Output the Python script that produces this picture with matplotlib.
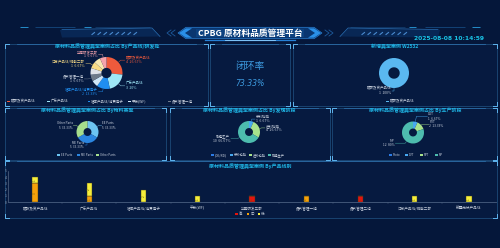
import matplotlib
matplotlib.use('Agg')
import matplotlib.pyplot as plt
import numpy as np
from matplotlib.patches import Polygon, Rectangle

plt.rcParams['font.family'] = ['Noto Sans CJK SC', 'DejaVu Sans']

W, H = 500, 248
BG = '#05173a'

# ---------------- data ----------------
title_main = "CPBG 原材料品质管理平台"
timestamp = "2025-08-08 10:14:59"

p1_title = "原材料品质管理典型案例占比 By产品线/研发处"
line_labels = ["磁碟及资产品线", "广东产品线", "墙体产品线/消费电子", "平板(WF)",
               "晶片管理一组", "晶片管理二组", "江苏产品线/储能二部", "新疆光伏产品线", "华南研发三部"]
line_counts = [4, 3, 2, 1, 1, 1, 1, 1, 1]
line_colors = ['#ee5a3c', '#9fe7f7', '#1f8ef0', '#cfe6f7', '#6f7b8a',
               '#dfe2e8', '#f9dc86', '#f7e9b0', '#f4a3ad']
line_show_label = [0, 1, 2, 4, 6, 8]
line_legend_n = 5

closed_title = "闭环率"
closed_value = "73.33%"

p3_title = "新增典型案例 W2532"
new_labels = ["磁碟及资产品线"]
new_counts = [1]
new_colors = ['#5ab8f0']

p4_title = "原材料品质管理典型案例占比 By物料类型"
mat_labels = ["EE Parts", "ME Parts", "Other Parts"]
mat_counts = [5, 5, 5]
mat_colors = ['#6cc4f2', '#2b86e0', '#a6de8c']

p5_title = "原材料品质管理典型案例占比 By发现阶段"
stage_labels = ["(OE/RD)", "来料检验", "进料检验", "制程生产"]
stage_counts = [0, 1, 4, 10]
stage_colors = ['#2c7be5', '#47a8f0', '#a8e28c', '#4dbcae']

p6_title = "原材料品质管理典型案例占比 By生产阶段"
prod_labels = ["Proto", "DVT", "PVT", "MP"]
prod_counts = [0, 1, 2, 12]
prod_colors = ['#2c7be5', '#47a8f0', '#a8e28c', '#4dbcae']

p7_title = "原材料品质管理典型案例 By产品线别"
bar_cats = ["磁碟及资产品线", "广东产品线", "墙体产品线/消费电子", "平板(WF)", "华南研发三部",
            "晶片管理一组", "晶片管理二组", "江苏产品线/储能二部", "新疆光伏产品线"]
sev_names = ["高", "中", "低"]
sev_high = [0, 0, 0, 0, 1, 0, 1, 0, 0]
sev_mid = [3, 1, 0, 0, 0, 1, 0, 0, 0]
sev_low = [1, 2, 2, 1, 0, 0, 0, 1, 1]
sev_colors = ['#e3140e', '#f5a10a', '#f6ee3a']

# ---------------- figure ----------------
fig = plt.figure(figsize=(W / 100, H / 100), dpi=100, facecolor=BG)
ov = fig.add_axes([0, 0, 1, 1])
ov.set_xlim(0, W)
ov.set_ylim(H, 0)
ov.axis('off')
ov.set_zorder(0)


def px_rect(x0, y0, x1, y1):
    return [x0 / W, 1 - y1 / H, (x1 - x0) / W, (y1 - y0) / H]


# ---------------- header ----------------
for xs, c in [((20, 28), '#2ba0e0'), ((35, 75), '#15497f'), ((84, 91), '#2ba0e0'), ((95, 150), '#113a6a')]:
    ov.plot(xs, (26.5, 26.5), color=c, lw=0.6, solid_capstyle='butt')
for xs, c in [((350, 405), '#113a6a'), ((409, 416), '#2ba0e0'), ((425, 465), '#15497f'), ((472, 480), '#2ba0e0')]:
    ov.plot(xs, (26.5, 26.5), color=c, lw=0.6, solid_capstyle='butt')
ov.add_patch(Polygon([(60, 30), (152, 28.5), (160, 36.5), (62, 37.5)], closed=True,
                     facecolor='#0a2c5c', edgecolor='none', alpha=0.8))
ov.plot([62, 152, 160], [29.5, 28, 36.5], color='#2a6fb5', lw=0.5)
for i in range(8):
    x = 92 + i * 6
    ov.plot([x, x + 2.5], [34.5, 32.5], color='#4a8ad0', lw=0.8)
ov.add_patch(Polygon([(440, 30), (348, 28.5), (340, 36.5), (438, 37.5)], closed=True,
                     facecolor='#0a2c5c', edgecolor='none', alpha=0.8))
ov.plot([438, 348, 340], [29.5, 28, 36.5], color='#2a6fb5', lw=0.5)
for i in range(8):
    x = 362 + i * 6
    ov.plot([x, x + 2.5], [34.5, 32.5], color='#4a8ad0', lw=0.8)

ov.add_patch(Polygon([(178, 33), (186, 27.3), (314, 27.3), (322, 33), (314, 38.7), (186, 38.7)],
                     closed=True, facecolor='#0a3670', edgecolor='#2a7fd0', lw=0.5))
ov.add_patch(Polygon([(196, 29), (304, 29), (304, 37), (196, 37)], closed=True,
                     facecolor='#0e4787', edgecolor='none', alpha=0.7))
ov.add_patch(Polygon([(179, 33), (186, 28.3), (192, 28.3), (185, 33), (192, 37.7), (186, 37.7)],
                     closed=True, facecolor='#2a90e8', edgecolor='none'))
ov.add_patch(Polygon([(321, 33), (314, 28.3), (308, 28.3), (315, 33), (308, 37.7), (314, 37.7)],
                     closed=True, facecolor='#2a90e8', edgecolor='none'))
for dx in (0, 4):
    ov.plot([175 - dx, 171 - dx, 175 - dx], [30, 33, 36], color='#1d5a9c', lw=0.6)
    ov.plot([325 + dx, 329 + dx, 325 + dx], [30, 33, 36], color='#1d5a9c', lw=0.6)
ov.plot([205, 295], [40, 40], color='#2f9cff', lw=0.9, alpha=0.8)
ov.plot([225, 275], [40, 40], color='#8fd0ff', lw=0.6)
ov.text(250, 33, title_main, color='white', fontsize=6.3, fontweight='bold',
        ha='center', va='center')
ov.text(483.5, 38.3, timestamp, color='#19c3e6', fontsize=4.3, fontweight='bold',
        ha='right', va='center', family=['DejaVu Sans'])


# ---------------- panels ----------------
def panel(x0, y0, x1, y1):
    ov.add_patch(Rectangle((x0, y0), x1 - x0, y1 - y0, facecolor='#061a40',
                           edgecolor='#1c4a78', lw=0.6))
    L = 4
    for (cx, cy, sx, sy) in [(x0, y0, 1, 1), (x1, y0, -1, 1), (x0, y1, 1, -1), (x1, y1, -1, -1)]:
        ov.plot([cx + sx * L, cx, cx], [cy, cy, cy + sy * L], color='#5fb4ee', lw=0.7)
    ov.plot([x0 + 12, x1 - 12], [y0, y0], color='#2a6aa4', lw=0.6)


panels = [(5, 44, 208, 105.5), (210, 44, 289.5, 105.5), (293, 44, 496.5, 105.5),
          (5, 107.5, 166, 159.5), (170, 107.5, 329.5, 159.5), (332, 107.5, 496.5, 159.5),
          (5, 161, 496.5, 217.5)]
for p in panels:
    panel(*p)

TITLE_C = '#1fb6e6'
TXT_C = '#c7cfdc'


def ptitle(x, y, s):
    ov.text(x, y, s, color=TITLE_C, fontsize=3.6, fontweight='bold', ha='center', va='center')


ptitle(107, 46.5, p1_title)
ptitle(395, 46.5, p3_title)
ptitle(87, 110.5, p4_title)
ptitle(249, 110.5, p5_title)
ptitle(415, 110.5, p6_title)
ptitle(250, 166, p7_title)


def fmt_pct(v, tot):
    p = round(100 * v / tot, 2)
    s = f"{p:.2f}".rstrip('0').rstrip('.')
    return s + '%'


def donut(cx, cy, r, values, colors, labels, inner, show_idx, fs=2.5, lab_len=0.2, hlen=0.25,
          side_override=None, text_colors=None):
    ax = fig.add_axes(px_rect(cx - r, cy - r, cx + r, cy + r))
    ax.set_zorder(2)
    vals = [v if v > 0 else 0 for v in values]
    wedges, _ = ax.pie(vals, colors=colors, startangle=90, counterclock=False, radius=1,
                       wedgeprops=dict(width=1 - inner, edgecolor='none'))
    ax.set_xlim(-1, 1)
    ax.set_ylim(-1, 1)
    ax.axis('off')
    tot = sum(values)
    for i in show_idx:
        if values[i] <= 0:
            continue
        w = wedges[i]
        ang = np.deg2rad((w.theta1 + w.theta2) / 2)
        x, y = np.cos(ang), np.sin(ang)
        ll = lab_len[i] if isinstance(lab_len, dict) else lab_len
        x2, y2 = (1 + ll) * x, (1 + ll) * y
        side = 1 if x > 0.01 else -1
        if side_override and i in side_override:
            side = side_override[i]
        hl = hlen[i] if isinstance(hlen, dict) else hlen
        x3 = x2 + side * hl
        ax.plot([x * 1.02, x2, x3], [y * 1.02, y2, y2], color=colors[i], lw=0.3, clip_on=False)
        tc = text_colors[i] if text_colors else colors[i]
        ax.text(x3 + side * 0.06, y2, f"{labels[i]}\n{values[i]}  {fmt_pct(values[i], tot)}",
                color=tc, fontsize=fs, ha='left' if side > 0 else 'right',
                va='center', linespacing=1.15, clip_on=False)
    return ax


p1_text_colors = [c if i != 4 else TXT_C for i, c in enumerate(line_colors)]
donut(106.5, 73, 16, line_counts, line_colors, line_labels, 0.32, line_show_label,
      text_colors=p1_text_colors)
donut(394, 73, 15, new_counts, new_colors, new_labels, 0.38, [0], lab_len=0.17, hlen=0.1,
      side_override={0: -1}, text_colors=[TXT_C])
donut(87.5, 132, 11, mat_counts, mat_colors, mat_labels, 0.36, [0, 1, 2], fs=2.2,
      text_colors=[TXT_C] * 3)
donut(249, 132, 11, stage_counts, stage_colors, stage_labels, 0.36, [1, 2, 3],
      text_colors=[TXT_C] * 4, hlen={1: 0.3, 2: 0.3, 3: 0.6})
donut(413, 132.5, 11, prod_counts, prod_colors, prod_labels, 0.36, [1, 2, 3], fs=2.3,
      text_colors=[TXT_C] * 4, hlen={1: 1.0, 2: 0.6, 3: 0.9},
      lab_len={1: 0.5, 2: 0.12, 3: 0.2})


def legend_row(labels, colors, xs, y, fs=2.5):
    for xx, lab, c in zip(xs, labels, colors):
        ov.add_patch(Rectangle((xx, y - 0.8), 2.6, 1.6, facecolor=c, edgecolor='none'))
        ov.text(xx + 3.8, y, lab, color=TXT_C, fontsize=fs, ha='left', va='center')


legend_row(line_labels[:line_legend_n], line_colors[:line_legend_n],
           [7 + 40.3 * i for i in range(line_legend_n)], 101.5)
legend_row(new_labels, new_colors, [386], 101.5)
legend_row(mat_labels, mat_colors, [57, 77, 96], 155, fs=2.1)
legend_row(stage_labels, stage_colors, [211, 230, 249, 268], 155, fs=2.3)
legend_row(prod_labels, prod_colors, [389, 405, 420, 435], 155, fs=2.1)

# closed-loop rate
ov.text(249.5, 66, closed_title, color='#3d9be0', fontsize=7, ha='center', va='center',
        fontweight='light')
ov.text(249.5, 83, closed_value, color='#3d9be0', fontsize=5.6, ha='center', va='center',
        style='italic', family=['DejaVu Sans'])

# ---------------- stacked bars ----------------
bx = fig.add_axes(px_rect(8, 170.7, 496, 202.3))
bx.set_zorder(2)
bx.patch.set_alpha(0)
xi = np.arange(len(bar_cats))
bottom = np.zeros(len(bar_cats))
for vals, c in zip([sev_high, sev_mid, sev_low], sev_colors):
    v = np.array(vals, dtype=float)
    bars = bx.bar(xi, v, bottom=bottom, width=0.1, color=c, edgecolor='#3a3a20', linewidth=0.3)
    for rect, val, b in zip(bars, v, bottom):
        if val > 0:
            bx.text(rect.get_x() + rect.get_width() / 2, b + val / 2, f"{int(val)}",
                    color='#6a5a10', fontsize=2.2, ha='center', va='center', rotation=90)
    bottom += v
bx.set_xlim(-0.5, len(bar_cats) - 0.5)
bx.set_ylim(0, 5)
bx.set_yticks(range(6))
bx.set_xticks(xi)
bx.set_xticklabels(bar_cats)
bx.set_xticks(np.arange(len(bar_cats) - 1) + 0.5, minor=True)
bx.tick_params(axis='x', which='major', length=0, pad=3.2, labelsize=2.6, labelcolor=TXT_C)
bx.tick_params(axis='x', which='minor', length=1.2, width=0.3, color='#4a5f80')
bx.tick_params(axis='y', length=0, pad=1.2, labelsize=2.4, labelcolor='#9aa6b8')
for s in ['top', 'right']:
    bx.spines[s].set_visible(False)
bx.spines['bottom'].set_color('#4a5f80')
bx.spines['bottom'].set_linewidth(0.6)
bx.spines['left'].set_color('#6a7a96')
bx.spines['left'].set_linewidth(0.4)

legend_row(sev_names, sev_colors, [235, 246.5, 257.5], 214)

fig.savefig('out.png', dpi=100, facecolor=BG)
